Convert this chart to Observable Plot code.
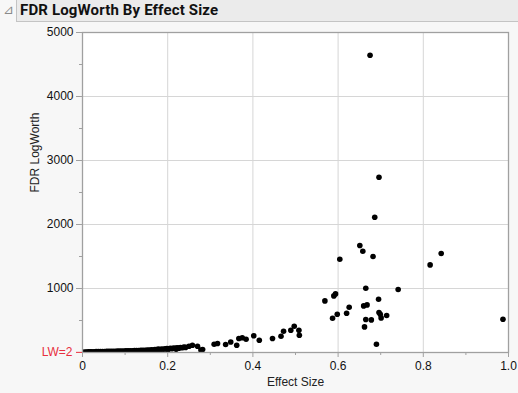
<!DOCTYPE html>
<html>
<head>
<meta charset="utf-8">
<script src="https://cdn.jsdelivr.net/npm/d3@7"></script>
<script src="https://cdn.jsdelivr.net/npm/@observablehq/plot@0.6"></script>
<style>
  html, body { margin: 0; padding: 0; background: #f7f7f7; }
  #wrap { width: 518px; height: 393px; position: relative; overflow: hidden; background: #f7f7f7; }
  #hdr { position: absolute; left: 16px; top: 0; width: 510px; height: 21px; background: #ebebeb;
         border-left: 1px solid #c4c4c4; border-bottom: 1px solid #c4c4c4; box-sizing: content-box; }
  #tri { position: absolute; left: 3px; top: 2px; font: 13px "DejaVu Sans"; color: #8a8a8a; }
  #title { position: absolute; left: 20px; top: 1px; font: bold 15px Roboto, "Liberation Sans", sans-serif; color: #111; white-space: nowrap; letter-spacing: 0.15px; }
  #chart { position: absolute; left: 0; top: 22px; }
</style>
</head>
<body>
<div id="wrap">
  <div id="hdr"></div>
  <div id="tri">⊿</div>
  <div id="title">FDR LogWorth By Effect Size</div>
  <div id="chart"></div>
</div>
<script>
// Effect size (x) and FDR LogWorth (y)
const effectSize = [
  0.002,0.006,0.010,0.014,0.018,0.022,0.027,0.032,0.037,0.042,0.047,0.052,0.057,0.062,0.067,0.072,0.077,0.082,
  0.087,0.092,0.097,0.102,0.107,0.112,0.117,0.122,0.127,0.132,0.137,0.142,0.147,0.150,0.152,0.157,0.162,0.166,
  0.170,0.174,0.178,0.180,0.182,0.186,0.190,0.194,0.198,0.200,0.202,0.206,0.210,0.214,0.218,0.220,0.222,0.226,
  0.230,0.234,0.238,0.242,0.250,0.258,0.270,0.278,0.282,
  0.309,0.317,0.336,0.348,0.362,0.367,0.375,0.384,0.402,0.415,0.446,0.466,0.472,0.489,0.497,0.508,0.509,
  0.569,0.587,0.590,0.594,0.598,0.604,0.620,0.626,0.651,0.658,0.660,0.662,0.665,0.665,0.668,0.675,0.678,
  0.682,0.686,0.690,0.695,0.696,0.696,0.699,0.701,0.714,0.741,0.816,0.842,0.987
];
const logWorth = [
  4,6,8,9,10,11,12,13,14,15,15,16,17,18,19,20,20,21,
  22,23,24,25,26,27,28,29,30,31,33,34,36,28,38,40,42,40,
  48,45,52,35,47,55,50,58,62,40,54,66,60,70,64,50,72,68,
  78,74,85,80,98,114,98,40,47,
  130,140,125,163,114,219,230,208,262,192,219,255,333,348,411,348,270,
  806,536,884,916,598,1458,614,708,1672,1583,728,400,1005,516,744,4645,509,
  1500,2114,130,833,2739,625,598,541,578,984,1369,1547,520
];
const xTicks = [0, 0.2, 0.4, 0.6, 0.8, 1.0];
const xTickLabels = ["0", "0.2", "0.4", "0.6", "0.8", "1.0"];
const xMinor = [0.1, 0.3, 0.5, 0.7, 0.9];
const xGrid = [0.2, 0.4, 0.6, 0.8];
const yTicks = [1000, 2000, 3000, 4000, 5000];
const yMinor = [500, 1500, 2500, 3500, 4500];
const lwLine = [2];

const pts = effectSize.map((x, i) => ({x, y: logWorth[i]}));
const red = "#e8303e";
const grey = "#a0a0a0";

const chart = Plot.plot({
  width: 518,
  height: 371,
  marginLeft: 82,
  marginRight: 10,
  marginTop: 10,
  marginBottom: 41,
  style: {fontFamily: "'Liberation Sans', Arial, sans-serif", fontSize: "12px", background: "transparent", color: "#111"},
  x: {domain: [0, 1]},
  y: {domain: [0, 5000]},
  marks: [
    Plot.frame({fill: "white", stroke: null}),
    Plot.gridX(xGrid, {stroke: "#d6d6d6", strokeOpacity: 1}),
    Plot.gridY(yTicks, {stroke: "#d6d6d6", strokeOpacity: 1}),
    Plot.dot(pts, {x: "x", y: "y", r: 2.8, fill: "black", stroke: null, clip: true}),
    Plot.frame({stroke: grey, strokeWidth: 1.3}),
    Plot.axisY({ticks: yTicks, tickSize: 6, tickPadding: 3, stroke: grey, fill: "#111", tickFormat: d3.format("d"), label: null}),
    Plot.axisY({ticks: yMinor, tickSize: 3, text: null, stroke: grey, label: null}),
    Plot.axisY({ticks: lwLine, tickSize: 6, tickPadding: 4, stroke: red, fill: red, tickFormat: () => "LW=2", label: null}),
    Plot.axisX({ticks: xTicks, tickSize: 5, tickPadding: 4, stroke: grey, fill: "#111", tickFormat: d => xTickLabels[xTicks.indexOf(d)], label: null}),
    Plot.axisX({ticks: xMinor, tickSize: 3, text: null, stroke: grey, label: null}),
    Plot.text(["Effect Size"], {frameAnchor: "bottom", dy: 33, text: d => d, fill: "#222"}),
    Plot.text(["FDR LogWorth"], {frameAnchor: "left", dx: -47, rotate: -90, text: d => d, fill: "#222"})
  ]
});
document.getElementById("chart").appendChild(chart);
</script>
</body>
</html>
